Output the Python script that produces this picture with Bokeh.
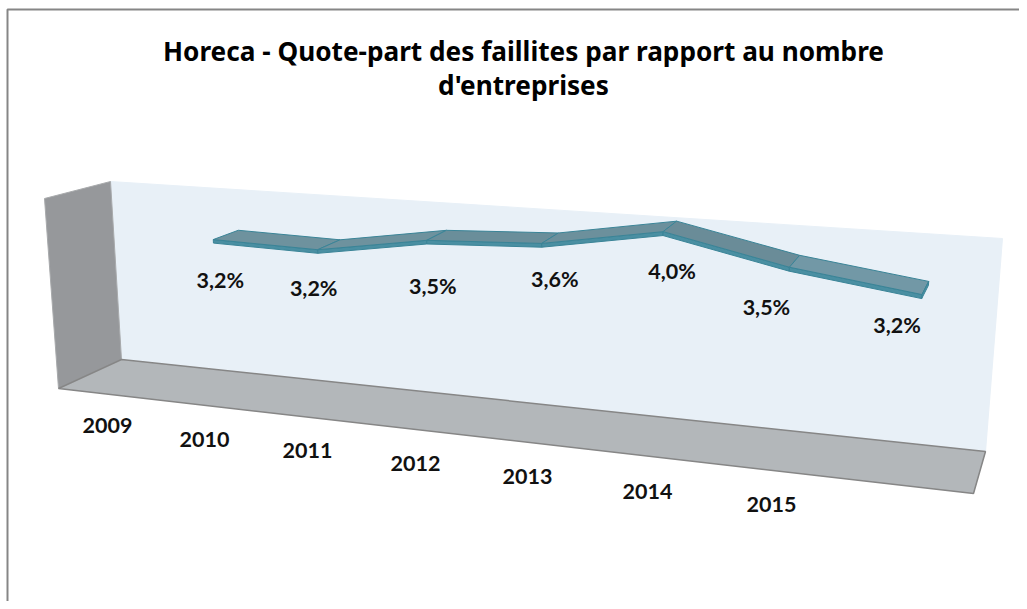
from bokeh.plotting import figure
from bokeh.models import Range1d, ColumnDataSource
from bokeh.core.properties import value
from bokeh.embed import file_html
from bokeh.resources import INLINE
import numpy as np

title_lines = ["Horeca - Quote-part des faillites par rapport au nombre", "d'entreprises"]
years = ["2009", "2010", "2011", "2012", "2013", "2014", "2015"]
share = [3.2, 3.16, 3.5, 3.6, 3.97, 3.5, 3.2]

# layout: projection of the 3D box (category slot, value, depth) onto the page
SLOTS = 8
V_MAX = 3.9
BACK = [(121, 359), (985, 451), (1002, 238), (110, 181)]    # bl, br, tr, tl
FRONT = [(58, 388), (973, 493), (991, 266), (44, 198)]
RIB_Z = (0.28, 0.72)
THICK = 0.07
LABEL_DX = [7, -4, 6, 13, 9, -23, -25]
LABEL_DY = [40, 38, 46, 36, 39, 40, 30]


def homography(q):
    src = [(0, 0), (1, 0), (1, 1), (0, 1)]
    A, b = [], []
    for (u, v), (x, y) in zip(src, q):
        A.append([u, v, 1, 0, 0, 0, -u * x, -v * x]); b.append(x)
        A.append([0, 0, 0, u, v, 1, -u * y, -v * y]); b.append(y)
    return np.append(np.linalg.solve(np.array(A, float), np.array(b, float)), 1).reshape(3, 3)


HB, HF = homography(BACK), homography(FRONT)


def project(cat, val, z):
    """cat in 0..SLOTS, val in value units, z: 0 back .. 1 front."""
    vec = np.array([cat / SLOTS, val / V_MAX, 1.0])
    b = HB @ vec
    f = HF @ vec
    b, f = b[:2] / b[2], f[:2] / f[2]
    return tuple(b + (f - b) * z)


def xs_ys(points):
    return [pt[0] for pt in points], [pt[1] for pt in points]


p = figure(width=1019, height=601, x_range=Range1d(0, 1019), y_range=Range1d(601, 0),
           output_backend="svg", toolbar_location=None, min_border=0, outline_line_color=None)
p.axis.visible = False
p.grid.visible = False

# chart frame
p.line([7, 7, 1019], [601, 9, 9], line_color="#868686", line_width=2)

# walls
wall = xs_ys([project(0, 0, 0), project(SLOTS, 0, 0), project(SLOTS, V_MAX, 0), project(0, V_MAX, 0)])
p.patch(*wall, fill_color="#E8F0F7", line_color="#E8F0F7", line_width=1)
left = xs_ys([project(0, 0, 0), project(0, 0, 1), project(0, V_MAX, 1), project(0, V_MAX, 0)])
p.patch(*left, fill_color="#96989B", line_color="#A8AAAC", line_width=1)
floor = xs_ys([project(0, 0, 0), project(SLOTS, 0, 0), project(SLOTS, 0, 1), project(0, 0, 1)])
p.patch(*floor, fill_color="#B3B7BA", line_color="#868686", line_width=1.5)

# ribbon
cats = [i + 1.5 for i in range(len(share))]
top_col = ["#6E929E", "#6E929E", "#6A8E9A", "#6C909C", "#6A8C98", "#7298A6", "#7298A8"]
edge = "#3A8497"
side_col = "#4A8FA2"
for i in range(len(share) - 1):
    c0, c1, v0, v1 = cats[i], cats[i + 1], share[i], share[i + 1]
    zb, zf = RIB_Z
    side = xs_ys([project(c0, v0, zf), project(c1, v1, zf),
                  project(c1, v1 - THICK, zf), project(c0, v0 - THICK, zf)])
    p.patch(*side, fill_color=side_col, line_color=edge, line_width=1)
    top = xs_ys([project(c0, v0, zb), project(c1, v1, zb), project(c1, v1, zf), project(c0, v0, zf)])
    p.patch(*top, fill_color=top_col[i], line_color=edge, line_width=1)
end = xs_ys([project(cats[-1], share[-1], RIB_Z[0]), project(cats[-1], share[-1], RIB_Z[1]),
             project(cats[-1], share[-1] - THICK, RIB_Z[1]), project(cats[-1], share[-1] - THICK, RIB_Z[0])])
p.patch(*end, fill_color=side_col, line_color=edge, line_width=1)

# data labels
anchors = [project(c, v, RIB_Z[1]) for c, v in zip(cats, share)]
labels = ColumnDataSource(dict(
    x=[a[0] + d for a, d in zip(anchors, LABEL_DX)],
    y=[a[1] + d for a, d in zip(anchors, LABEL_DY)],
    text=[f"{v:.1f}%".replace(".", ",") for v in share]))
p.text("x", "y", "text", source=labels, text_font=value("Lato"), text_font_size="21.5px",
       text_font_style="bold", text_color="#111111", text_align="center", text_baseline="middle")

# year labels
year_x = [107, 204, 307, 415, 527, 647, 771]
year_y = [425, 439, 450, 463, 476, 491, 504]
p.text(year_x, year_y, years, text_font=value("Lato"), text_font_size="21.5px", text_font_style="bold",
       text_color="#111111", text_align="center", text_baseline="middle")

# title
p.text([523, 523], [50, 84], title_lines, text_font=value("Noto Sans"), text_font_size="26.2px",
       text_font_style="bold", text_color="#000000", text_align="center", text_baseline="middle")

open("out.html", "w").write(file_html(p, INLINE))
